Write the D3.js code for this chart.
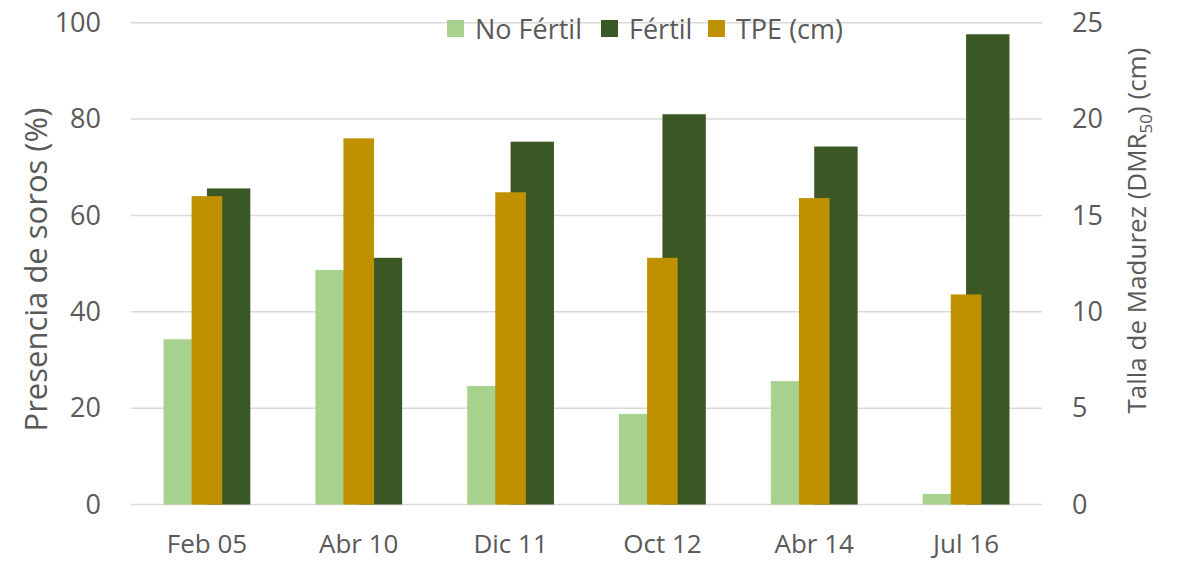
<!DOCTYPE html>
<html>
<head>
<meta charset="utf-8">
<script src="https://d3js.org/d3.v7.min.js"></script>
<style>
  body { margin: 0; background: white; }
  text { font-family: "Open Sans", sans-serif; fill: #595959; }
</style>
</head>
<body>
<div id="chart"></div>
<script>
const categories = ["Feb 05", "Abr 10", "Dic 11", "Oct 12", "Abr 14", "Jul 16"];
const noFertil = [34.3, 48.7, 24.6, 18.8, 25.6, 2.2];
const fertil = [65.6, 51.2, 75.3, 81.0, 74.3, 97.6];
const tpe = [16.0, 19.0, 16.2, 12.8, 15.9, 10.9];
const leftTicks = [0, 20, 40, 60, 80, 100];
const rightTicks = [0, 5, 10, 15, 20, 25];
const primaryKeys = ["No Fértil", "Fértil"];
const colors = { "No Fértil": "#a9d18e", "Fértil": "#3a5724", "TPE (cm)": "#bf9000" };

const w = 1182, h = 563;
const plotLeft = 131, plotRight = 1042, plotTop = 22.7, plotBottom = 504.5;

const svg = d3.select("#chart").append("svg")
    .attr("width", w)
    .attr("height", h);

const x0 = d3.scaleBand().domain(categories).range([plotLeft, plotRight]).padding(0);
const x1 = d3.scaleBand().domain(primaryKeys).range([0, x0.bandwidth()])
    .paddingInner(0).paddingOuter(0.75);
const xT = d3.scaleBand().domain(["TPE"]).range([0, x0.bandwidth()])
    .paddingInner(0).paddingOuter(1.98);

const yL = d3.scaleLinear().domain([0, 100]).range([plotBottom, plotTop]);
const yR = d3.scaleLinear().domain([0, 25]).range([plotBottom, plotTop]);

// gridlines
svg.append("g")
    .selectAll("line")
    .data(leftTicks)
    .enter()
    .append("line")
    .attr("x1", plotLeft)
    .attr("x2", plotRight)
    .attr("y1", d => yL(d))
    .attr("y2", d => yL(d))
    .attr("stroke", "#d9d9d9")
    .attr("stroke-width", 1.5);

// left axis
const yAxisL = svg.append("g")
    .attr("transform", "translate(" + (plotLeft - 30) + ",0)")
    .call(d3.axisLeft(yL).tickValues(leftTicks).tickSize(0).tickPadding(0));
yAxisL.select(".domain").remove();
yAxisL.selectAll("text").style("font-size", "27px").style("font-family", "Open Sans").attr("fill", "#595959");

// right axis
const yAxisR = svg.append("g")
    .attr("transform", "translate(" + (plotRight + 30) + ",0)")
    .call(d3.axisRight(yR).tickValues(rightTicks).tickSize(0).tickPadding(0));
yAxisR.select(".domain").remove();
yAxisR.selectAll("text").style("font-size", "27px").style("font-family", "Open Sans").attr("fill", "#595959");

// x axis labels
const xAxis = svg.append("g")
    .attr("transform", "translate(0," + plotBottom + ")")
    .call(d3.axisBottom(x0).tickSize(0).tickPadding(30));
xAxis.select(".domain").remove();
xAxis.selectAll("text").style("font-size", "26px").style("font-family", "Open Sans").attr("fill", "#595959");

// primary bars
const groups = svg.append("g")
    .selectAll("g")
    .data(categories.map((c, i) => ({ cat: c, vals: [noFertil[i], fertil[i]], tpe: tpe[i] })))
    .enter()
    .append("g")
    .attr("transform", d => "translate(" + x0(d.cat) + ",0)");

groups.selectAll("rect.prim")
    .data(d => primaryKeys.map((k, j) => ({ key: k, value: d.vals[j] })))
    .enter()
    .append("rect")
    .attr("class", "prim")
    .attr("x", d => x1(d.key))
    .attr("y", d => yL(d.value))
    .attr("width", x1.bandwidth())
    .attr("height", d => plotBottom - yL(d.value))
    .attr("fill", d => colors[d.key]);

// secondary bars (TPE) on top
groups.append("rect")
    .attr("x", xT("TPE"))
    .attr("y", d => yR(d.tpe))
    .attr("width", xT.bandwidth())
    .attr("height", d => plotBottom - yR(d.tpe))
    .attr("fill", colors["TPE (cm)"]);

// axis titles
svg.append("text")
    .attr("transform", "translate(47," + ((plotTop + plotBottom) / 2 + 6) + ") rotate(-90)")
    .attr("text-anchor", "middle")
    .style("font-size", "31px")
    .text("Presencia de soros (%)");

const rt = svg.append("text")
    .attr("transform", "translate(1146," + ((plotTop + plotBottom) / 2 - 33) + ") rotate(-90)")
    .attr("text-anchor", "middle")
    .style("font-size", "26px");
rt.append("tspan").text("Talla de Madurez (DMR");
rt.append("tspan").attr("dy", 6).style("font-size", "17px").text("50");
rt.append("tspan").attr("dy", -6).text(") (cm)");

// legend
const legendItems = [
    { label: "No Fértil", x: 447 },
    { label: "Fértil", x: 601 },
    { label: "TPE (cm)", x: 708 }
];
const legend = svg.append("g")
    .selectAll("g")
    .data(legendItems)
    .enter()
    .append("g")
    .attr("transform", d => "translate(" + d.x + ",20)");
legend.append("rect")
    .attr("width", 17)
    .attr("height", 17)
    .attr("fill", d => colors[d.label]);
legend.append("text")
    .attr("x", 28)
    .attr("y", 19)
    .style("font-size", "27px")
    .text(d => d.label);
</script>
</body>
</html>
